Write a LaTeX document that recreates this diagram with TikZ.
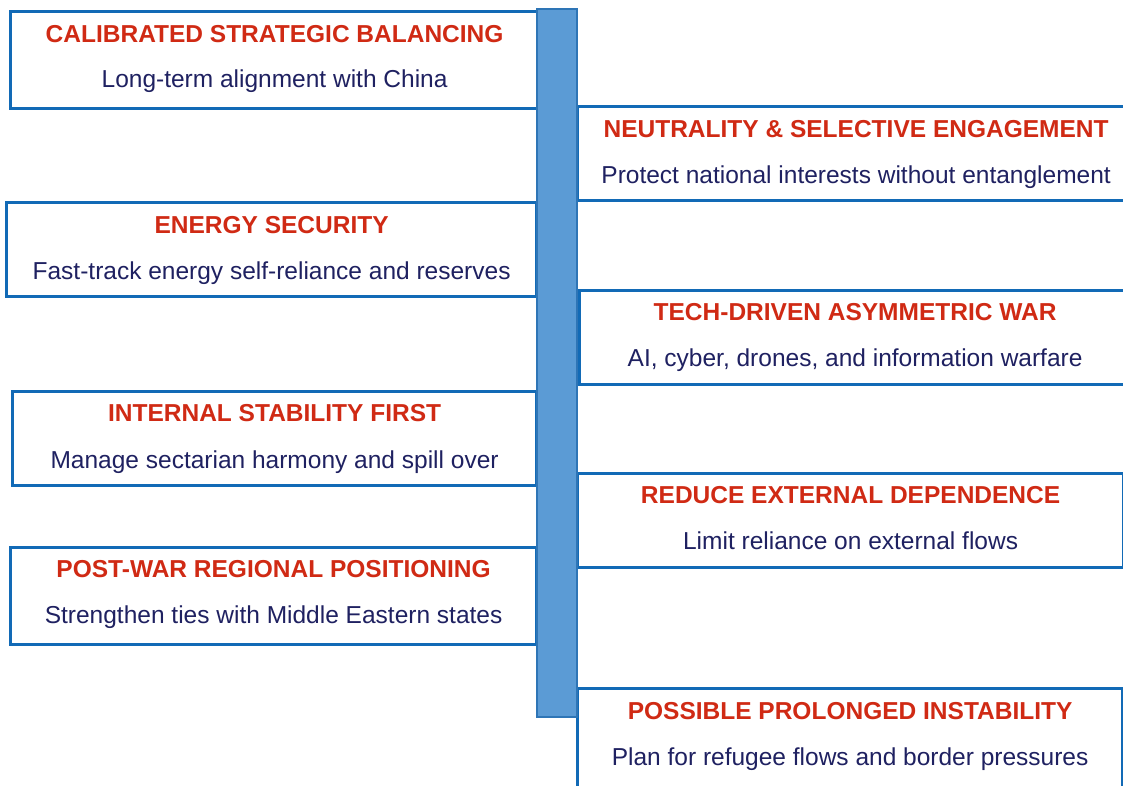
\documentclass[tikz,border=0pt]{standalone}
\usepackage{fontspec}
\setmainfont{Liberation Sans}
\usetikzlibrary{positioning}
\definecolor{boxblue}{RGB}{18,106,182}
\definecolor{barfill}{RGB}{91,155,213}
\definecolor{barline}{RGB}{46,117,182}
\definecolor{titlered}{RGB}{208,42,20}
\definecolor{notenavy}{RGB}{31,33,97}
\tikzset{
  sidebox/.style={draw=boxblue, line width=3.2pt, fill=white, inner sep=0pt,
    anchor=north west},
  head/.style={anchor=base, text=titlered,
    font=\fontsize{24.5}{28}\selectfont\bfseries},
  note/.style={anchor=base, text=notenavy,
    font=\fontsize{24.5}{28}\selectfont},
}
\begin{document}
\begin{tikzpicture}[x=1pt, y=-1pt]
  \useasboundingbox (0,0) rectangle (1123,785);
  \clip (0,0) rectangle (1123,785);
  % left column
  \node[sidebox, minimum width=528pt, minimum height=97pt] (l1) at (9,10) {};
  \node[sidebox, minimum width=530pt, minimum height=94pt] (l2) at (5,201) {};
  \node[sidebox, minimum width=524pt, minimum height=94pt] (l3) at (11,390) {};
  \node[sidebox, minimum width=526pt, minimum height=97pt] (l4) at (9,546) {};
  % right column
  \node[sidebox, minimum width=557pt, minimum height=94pt] (r1) at (576,105) {};
  \node[sidebox, minimum width=551pt, minimum height=94pt] (r2) at (578,289) {};
  \node[sidebox, minimum width=546pt, minimum height=94pt] (r3) at (576,472) {};
  \node[sidebox, minimum width=545pt, minimum height=110pt] (r4) at (576,687) {};
  % central bar
  \node[draw=barline, fill=barfill, line width=1.5pt, inner sep=0pt,
    anchor=north west, minimum width=40pt, minimum height=708pt] (bar) at (536,8) {};
  % texts
  \node[head] (h1) at ([yshift=-32pt]l1.north) {CALIBRATED STRATEGIC BALANCING};
  \node[note] (n1) at ([yshift=-77pt]l1.north) {Long-term alignment with China};
  \node[head] (h2) at ([yshift=-32pt]l2.north) {ENERGY SECURITY};
  \node[note] (n2) at ([yshift=-78pt]l2.north) {Fast-track energy self-reliance and reserves};
  \node[head] (h3) at ([yshift=-31pt]l3.north) {INTERNAL STABILITY FIRST};
  \node[note] (n3) at ([yshift=-78pt]l3.north) {Manage sectarian harmony and spill over};
  \node[head] (h4) at ([yshift=-31pt]l4.north) {POST-WAR REGIONAL POSITIONING};
  \node[note] (n4) at ([yshift=-77pt]l4.north) {Strengthen ties with Middle Eastern states};
  \node[head] (h5) at ([yshift=-32pt]r1.north) {NEUTRALITY \& SELECTIVE ENGAGEMENT};
  \node[note] (n5) at ([yshift=-78pt]r1.north) {Protect national interests without entanglement};
  \node[head] (h6) at ([yshift=-31pt]r2.north) {TECH-DRIVEN ASYMMETRIC WAR};
  \node[note] (n6) at ([yshift=-77pt]r2.north) {AI, cyber, drones, and information warfare};
  \node[head] (h7) at ([yshift=-31pt]r3.north) {REDUCE EXTERNAL DEPENDENCE};
  \node[note] (n7) at ([yshift=-77pt]r3.north) {Limit reliance on external flows};
  \node[head] (h8) at ([yshift=-32pt]r4.north) {POSSIBLE PROLONGED INSTABILITY};
  \node[note] (n8) at ([yshift=-78pt]r4.north) {Plan for refugee flows and border pressures};
\end{tikzpicture}
\end{document}
